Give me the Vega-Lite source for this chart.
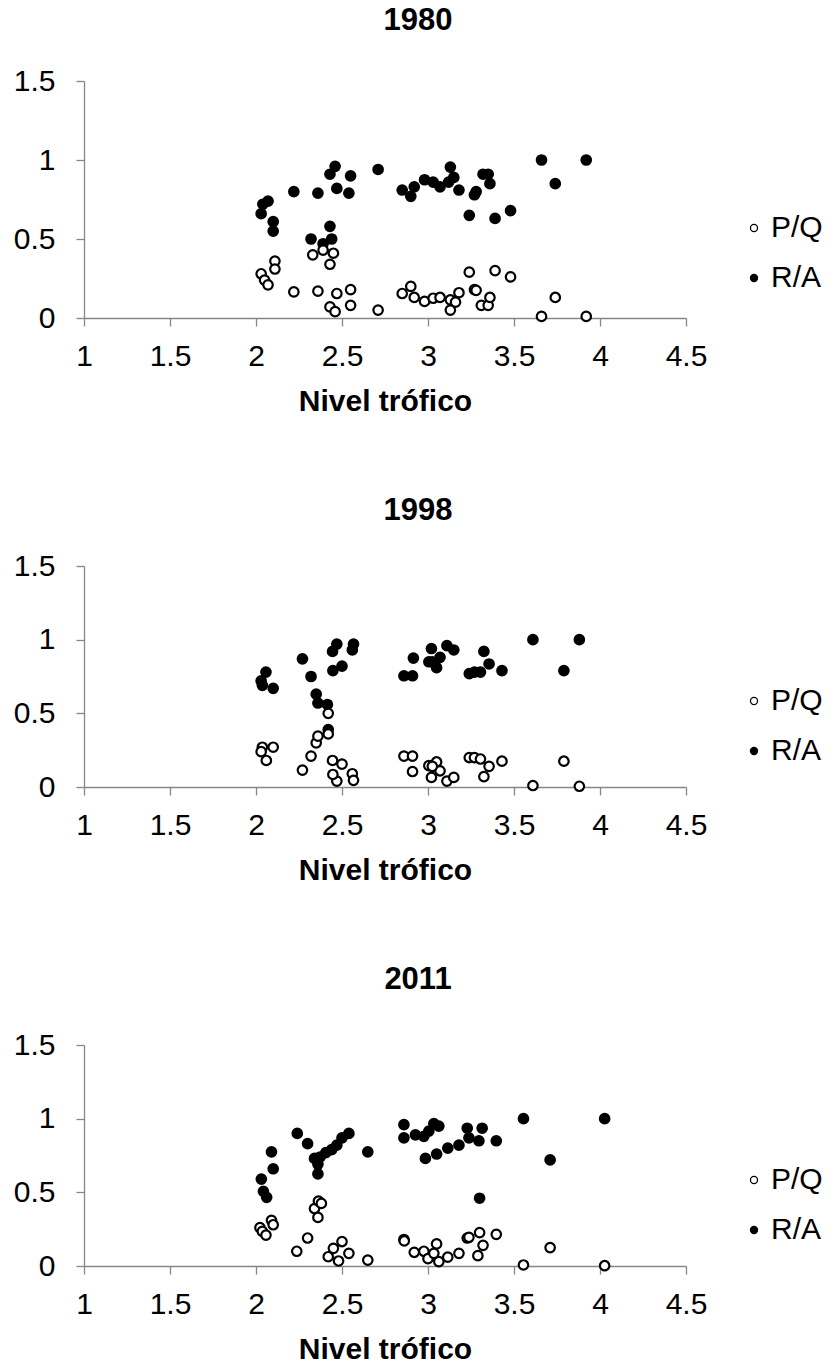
{
  "$schema": "https://vega.github.io/schema/vega-lite/v6.json",
  "background": "white",
  "padding": {"left": 13, "top": 5, "right": 0, "bottom": 0},
  "config": {
    "font": "Liberation Sans",
    "view": {"stroke": null},
    "axis": {
      "grid": false,
      "domainColor": "#868686",
      "tickColor": "#868686",
      "domainWidth": 1.3,
      "tickWidth": 1.3,
      "tickSize": 8,
      "labelFont": "Liberation Sans",
      "labelFontSize": 30,
      "labelColor": "black",
      "titleFont": "Liberation Sans",
      "titleFontSize": 30,
      "titleFontWeight": "bold",
      "titleColor": "black"
    },
    "title": {"font": "Liberation Sans", "fontSize": 31, "fontWeight": "bold", "color": "black", "anchor": "middle", "dx": 33},
    "legend": {
      "labelFont": "Liberation Sans",
      "labelFontSize": 30,
      "labelColor": "black",
      "symbolType": "circle",
      "symbolSize": 50,
      "symbolStrokeColor": "black",
      "symbolStrokeWidth": 1.3,
      "rowPadding": 20,
      "labelOffset": 2,
      "padding": 0
    },
    "concat": {"spacing": 79}
  },
  "data": {
    "values": [
      {"year": "1980", "s": "R/A", "tl": 2.03, "v": 0.66}, {"year": "1980", "s": "R/A", "tl": 2.04, "v": 0.72}, {"year": "1980", "s": "R/A", "tl": 2.07, "v": 0.74}, {"year": "1980", "s": "R/A", "tl": 2.10, "v": 0.61}, {"year": "1980", "s": "R/A", "tl": 2.10, "v": 0.55}, {"year": "1980", "s": "R/A", "tl": 2.22, "v": 0.80}, {"year": "1980", "s": "R/A", "tl": 2.36, "v": 0.79}, {"year": "1980", "s": "R/A", "tl": 2.32, "v": 0.50}, {"year": "1980", "s": "R/A", "tl": 2.39, "v": 0.47}, {"year": "1980", "s": "R/A", "tl": 2.43, "v": 0.58}, {"year": "1980", "s": "R/A", "tl": 2.44, "v": 0.50}, {"year": "1980", "s": "R/A", "tl": 2.43, "v": 0.91}, {"year": "1980", "s": "R/A", "tl": 2.46, "v": 0.96}, {"year": "1980", "s": "R/A", "tl": 2.47, "v": 0.82}, {"year": "1980", "s": "R/A", "tl": 2.55, "v": 0.90}, {"year": "1980", "s": "R/A", "tl": 2.54, "v": 0.79}, {"year": "1980", "s": "R/A", "tl": 2.71, "v": 0.94}, {"year": "1980", "s": "R/A", "tl": 2.85, "v": 0.81}, {"year": "1980", "s": "R/A", "tl": 2.90, "v": 0.77}, {"year": "1980", "s": "R/A", "tl": 2.92, "v": 0.83}, {"year": "1980", "s": "R/A", "tl": 2.98, "v": 0.875}, {"year": "1980", "s": "R/A", "tl": 3.03, "v": 0.86}, {"year": "1980", "s": "R/A", "tl": 3.07, "v": 0.83}, {"year": "1980", "s": "R/A", "tl": 3.13, "v": 0.955}, {"year": "1980", "s": "R/A", "tl": 3.15, "v": 0.89}, {"year": "1980", "s": "R/A", "tl": 3.12, "v": 0.86}, {"year": "1980", "s": "R/A", "tl": 3.18, "v": 0.81}, {"year": "1980", "s": "R/A", "tl": 3.24, "v": 0.65}, {"year": "1980", "s": "R/A", "tl": 3.27, "v": 0.78}, {"year": "1980", "s": "R/A", "tl": 3.28, "v": 0.80}, {"year": "1980", "s": "R/A", "tl": 3.32, "v": 0.91}, {"year": "1980", "s": "R/A", "tl": 3.35, "v": 0.91}, {"year": "1980", "s": "R/A", "tl": 3.36, "v": 0.85}, {"year": "1980", "s": "R/A", "tl": 3.39, "v": 0.63}, {"year": "1980", "s": "R/A", "tl": 3.48, "v": 0.68}, {"year": "1980", "s": "R/A", "tl": 3.66, "v": 1.0}, {"year": "1980", "s": "R/A", "tl": 3.74, "v": 0.85}, {"year": "1980", "s": "R/A", "tl": 3.92, "v": 1.0},
      {"year": "1980", "s": "P/Q", "tl": 2.03, "v": 0.28}, {"year": "1980", "s": "P/Q", "tl": 2.05, "v": 0.24}, {"year": "1980", "s": "P/Q", "tl": 2.07, "v": 0.21}, {"year": "1980", "s": "P/Q", "tl": 2.11, "v": 0.36}, {"year": "1980", "s": "P/Q", "tl": 2.11, "v": 0.31}, {"year": "1980", "s": "P/Q", "tl": 2.22, "v": 0.165}, {"year": "1980", "s": "P/Q", "tl": 2.36, "v": 0.17}, {"year": "1980", "s": "P/Q", "tl": 2.33, "v": 0.40}, {"year": "1980", "s": "P/Q", "tl": 2.39, "v": 0.43}, {"year": "1980", "s": "P/Q", "tl": 2.45, "v": 0.41}, {"year": "1980", "s": "P/Q", "tl": 2.43, "v": 0.34}, {"year": "1980", "s": "P/Q", "tl": 2.43, "v": 0.07}, {"year": "1980", "s": "P/Q", "tl": 2.46, "v": 0.04}, {"year": "1980", "s": "P/Q", "tl": 2.47, "v": 0.155}, {"year": "1980", "s": "P/Q", "tl": 2.55, "v": 0.18}, {"year": "1980", "s": "P/Q", "tl": 2.55, "v": 0.08}, {"year": "1980", "s": "P/Q", "tl": 2.71, "v": 0.05}, {"year": "1980", "s": "P/Q", "tl": 2.85, "v": 0.155}, {"year": "1980", "s": "P/Q", "tl": 2.90, "v": 0.20}, {"year": "1980", "s": "P/Q", "tl": 2.92, "v": 0.13}, {"year": "1980", "s": "P/Q", "tl": 2.98, "v": 0.105}, {"year": "1980", "s": "P/Q", "tl": 3.03, "v": 0.125}, {"year": "1980", "s": "P/Q", "tl": 3.07, "v": 0.13}, {"year": "1980", "s": "P/Q", "tl": 3.13, "v": 0.115}, {"year": "1980", "s": "P/Q", "tl": 3.16, "v": 0.10}, {"year": "1980", "s": "P/Q", "tl": 3.13, "v": 0.05}, {"year": "1980", "s": "P/Q", "tl": 3.18, "v": 0.16}, {"year": "1980", "s": "P/Q", "tl": 3.24, "v": 0.29}, {"year": "1980", "s": "P/Q", "tl": 3.27, "v": 0.18}, {"year": "1980", "s": "P/Q", "tl": 3.28, "v": 0.175}, {"year": "1980", "s": "P/Q", "tl": 3.31, "v": 0.08}, {"year": "1980", "s": "P/Q", "tl": 3.35, "v": 0.08}, {"year": "1980", "s": "P/Q", "tl": 3.36, "v": 0.13}, {"year": "1980", "s": "P/Q", "tl": 3.39, "v": 0.30}, {"year": "1980", "s": "P/Q", "tl": 3.48, "v": 0.26}, {"year": "1980", "s": "P/Q", "tl": 3.66, "v": 0.01}, {"year": "1980", "s": "P/Q", "tl": 3.74, "v": 0.13}, {"year": "1980", "s": "P/Q", "tl": 3.92, "v": 0.01},
      {"year": "1998", "s": "R/A", "tl": 2.058, "v": 0.78}, {"year": "1998", "s": "R/A", "tl": 2.03, "v": 0.72}, {"year": "1998", "s": "R/A", "tl": 2.037, "v": 0.69}, {"year": "1998", "s": "R/A", "tl": 2.10, "v": 0.67}, {"year": "1998", "s": "R/A", "tl": 2.27, "v": 0.87}, {"year": "1998", "s": "R/A", "tl": 2.32, "v": 0.75}, {"year": "1998", "s": "R/A", "tl": 2.35, "v": 0.63}, {"year": "1998", "s": "R/A", "tl": 2.36, "v": 0.57}, {"year": "1998", "s": "R/A", "tl": 2.415, "v": 0.56}, {"year": "1998", "s": "R/A", "tl": 2.42, "v": 0.39}, {"year": "1998", "s": "R/A", "tl": 2.445, "v": 0.92}, {"year": "1998", "s": "R/A", "tl": 2.47, "v": 0.97}, {"year": "1998", "s": "R/A", "tl": 2.447, "v": 0.79}, {"year": "1998", "s": "R/A", "tl": 2.50, "v": 0.82}, {"year": "1998", "s": "R/A", "tl": 2.56, "v": 0.93}, {"year": "1998", "s": "R/A", "tl": 2.567, "v": 0.97}, {"year": "1998", "s": "R/A", "tl": 2.86, "v": 0.755}, {"year": "1998", "s": "R/A", "tl": 2.91, "v": 0.755}, {"year": "1998", "s": "R/A", "tl": 2.915, "v": 0.875}, {"year": "1998", "s": "R/A", "tl": 3.02, "v": 0.94}, {"year": "1998", "s": "R/A", "tl": 3.005, "v": 0.85}, {"year": "1998", "s": "R/A", "tl": 3.05, "v": 0.81}, {"year": "1998", "s": "R/A", "tl": 3.07, "v": 0.88}, {"year": "1998", "s": "R/A", "tl": 3.11, "v": 0.96}, {"year": "1998", "s": "R/A", "tl": 3.15, "v": 0.93}, {"year": "1998", "s": "R/A", "tl": 3.025, "v": 0.85}, {"year": "1998", "s": "R/A", "tl": 3.24, "v": 0.77}, {"year": "1998", "s": "R/A", "tl": 3.27, "v": 0.78}, {"year": "1998", "s": "R/A", "tl": 3.305, "v": 0.78}, {"year": "1998", "s": "R/A", "tl": 3.325, "v": 0.92}, {"year": "1998", "s": "R/A", "tl": 3.355, "v": 0.835}, {"year": "1998", "s": "R/A", "tl": 3.43, "v": 0.79}, {"year": "1998", "s": "R/A", "tl": 3.61, "v": 1.0}, {"year": "1998", "s": "R/A", "tl": 3.79, "v": 0.79}, {"year": "1998", "s": "R/A", "tl": 3.88, "v": 1.0},
      {"year": "1998", "s": "P/Q", "tl": 2.037, "v": 0.27}, {"year": "1998", "s": "P/Q", "tl": 2.03, "v": 0.24}, {"year": "1998", "s": "P/Q", "tl": 2.06, "v": 0.18}, {"year": "1998", "s": "P/Q", "tl": 2.10, "v": 0.27}, {"year": "1998", "s": "P/Q", "tl": 2.27, "v": 0.115}, {"year": "1998", "s": "P/Q", "tl": 2.32, "v": 0.21}, {"year": "1998", "s": "P/Q", "tl": 2.35, "v": 0.30}, {"year": "1998", "s": "P/Q", "tl": 2.36, "v": 0.345}, {"year": "1998", "s": "P/Q", "tl": 2.42, "v": 0.50}, {"year": "1998", "s": "P/Q", "tl": 2.42, "v": 0.36}, {"year": "1998", "s": "P/Q", "tl": 2.445, "v": 0.18}, {"year": "1998", "s": "P/Q", "tl": 2.47, "v": 0.04}, {"year": "1998", "s": "P/Q", "tl": 2.447, "v": 0.085}, {"year": "1998", "s": "P/Q", "tl": 2.50, "v": 0.155}, {"year": "1998", "s": "P/Q", "tl": 2.56, "v": 0.09}, {"year": "1998", "s": "P/Q", "tl": 2.567, "v": 0.045}, {"year": "1998", "s": "P/Q", "tl": 2.86, "v": 0.21}, {"year": "1998", "s": "P/Q", "tl": 2.91, "v": 0.21}, {"year": "1998", "s": "P/Q", "tl": 2.91, "v": 0.105}, {"year": "1998", "s": "P/Q", "tl": 3.02, "v": 0.065}, {"year": "1998", "s": "P/Q", "tl": 3.005, "v": 0.145}, {"year": "1998", "s": "P/Q", "tl": 3.05, "v": 0.17}, {"year": "1998", "s": "P/Q", "tl": 3.07, "v": 0.11}, {"year": "1998", "s": "P/Q", "tl": 3.11, "v": 0.04}, {"year": "1998", "s": "P/Q", "tl": 3.15, "v": 0.065}, {"year": "1998", "s": "P/Q", "tl": 3.025, "v": 0.14}, {"year": "1998", "s": "P/Q", "tl": 3.24, "v": 0.20}, {"year": "1998", "s": "P/Q", "tl": 3.27, "v": 0.20}, {"year": "1998", "s": "P/Q", "tl": 3.305, "v": 0.19}, {"year": "1998", "s": "P/Q", "tl": 3.325, "v": 0.07}, {"year": "1998", "s": "P/Q", "tl": 3.355, "v": 0.14}, {"year": "1998", "s": "P/Q", "tl": 3.43, "v": 0.175}, {"year": "1998", "s": "P/Q", "tl": 3.61, "v": 0.01}, {"year": "1998", "s": "P/Q", "tl": 3.79, "v": 0.175}, {"year": "1998", "s": "P/Q", "tl": 3.88, "v": 0.005},
      {"year": "2011", "s": "R/A", "tl": 2.09, "v": 0.775}, {"year": "2011", "s": "R/A", "tl": 2.10, "v": 0.66}, {"year": "2011", "s": "R/A", "tl": 2.031, "v": 0.59}, {"year": "2011", "s": "R/A", "tl": 2.043, "v": 0.507}, {"year": "2011", "s": "R/A", "tl": 2.062, "v": 0.466}, {"year": "2011", "s": "R/A", "tl": 2.24, "v": 0.90}, {"year": "2011", "s": "R/A", "tl": 2.30, "v": 0.83}, {"year": "2011", "s": "R/A", "tl": 2.34, "v": 0.73}, {"year": "2011", "s": "R/A", "tl": 2.36, "v": 0.69}, {"year": "2011", "s": "R/A", "tl": 2.36, "v": 0.625}, {"year": "2011", "s": "R/A", "tl": 2.373, "v": 0.74}, {"year": "2011", "s": "R/A", "tl": 2.406, "v": 0.77}, {"year": "2011", "s": "R/A", "tl": 2.44, "v": 0.79}, {"year": "2011", "s": "R/A", "tl": 2.47, "v": 0.82}, {"year": "2011", "s": "R/A", "tl": 2.50, "v": 0.87}, {"year": "2011", "s": "R/A", "tl": 2.54, "v": 0.90}, {"year": "2011", "s": "R/A", "tl": 2.65, "v": 0.775}, {"year": "2011", "s": "R/A", "tl": 2.86, "v": 0.96}, {"year": "2011", "s": "R/A", "tl": 2.86, "v": 0.87}, {"year": "2011", "s": "R/A", "tl": 2.927, "v": 0.89}, {"year": "2011", "s": "R/A", "tl": 2.976, "v": 0.88}, {"year": "2011", "s": "R/A", "tl": 3.034, "v": 0.966}, {"year": "2011", "s": "R/A", "tl": 2.985, "v": 0.73}, {"year": "2011", "s": "R/A", "tl": 3.063, "v": 0.95}, {"year": "2011", "s": "R/A", "tl": 3.005, "v": 0.916}, {"year": "2011", "s": "R/A", "tl": 3.05, "v": 0.76}, {"year": "2011", "s": "R/A", "tl": 3.115, "v": 0.80}, {"year": "2011", "s": "R/A", "tl": 3.18, "v": 0.82}, {"year": "2011", "s": "R/A", "tl": 3.228, "v": 0.935}, {"year": "2011", "s": "R/A", "tl": 3.238, "v": 0.87}, {"year": "2011", "s": "R/A", "tl": 3.296, "v": 0.85}, {"year": "2011", "s": "R/A", "tl": 3.315, "v": 0.935}, {"year": "2011", "s": "R/A", "tl": 3.397, "v": 0.85}, {"year": "2011", "s": "R/A", "tl": 3.30, "v": 0.46}, {"year": "2011", "s": "R/A", "tl": 3.555, "v": 1.0}, {"year": "2011", "s": "R/A", "tl": 3.71, "v": 0.72}, {"year": "2011", "s": "R/A", "tl": 4.027, "v": 1.0},
      {"year": "2011", "s": "P/Q", "tl": 2.023, "v": 0.26}, {"year": "2011", "s": "P/Q", "tl": 2.037, "v": 0.235}, {"year": "2011", "s": "P/Q", "tl": 2.058, "v": 0.21}, {"year": "2011", "s": "P/Q", "tl": 2.09, "v": 0.31}, {"year": "2011", "s": "P/Q", "tl": 2.10, "v": 0.28}, {"year": "2011", "s": "P/Q", "tl": 2.237, "v": 0.10}, {"year": "2011", "s": "P/Q", "tl": 2.30, "v": 0.19}, {"year": "2011", "s": "P/Q", "tl": 2.34, "v": 0.39}, {"year": "2011", "s": "P/Q", "tl": 2.36, "v": 0.33}, {"year": "2011", "s": "P/Q", "tl": 2.363, "v": 0.44}, {"year": "2011", "s": "P/Q", "tl": 2.38, "v": 0.425}, {"year": "2011", "s": "P/Q", "tl": 2.42, "v": 0.063}, {"year": "2011", "s": "P/Q", "tl": 2.45, "v": 0.12}, {"year": "2011", "s": "P/Q", "tl": 2.48, "v": 0.034}, {"year": "2011", "s": "P/Q", "tl": 2.50, "v": 0.166}, {"year": "2011", "s": "P/Q", "tl": 2.54, "v": 0.086}, {"year": "2011", "s": "P/Q", "tl": 2.65, "v": 0.04}, {"year": "2011", "s": "P/Q", "tl": 2.86, "v": 0.18}, {"year": "2011", "s": "P/Q", "tl": 2.862, "v": 0.17}, {"year": "2011", "s": "P/Q", "tl": 2.92, "v": 0.093}, {"year": "2011", "s": "P/Q", "tl": 2.976, "v": 0.10}, {"year": "2011", "s": "P/Q", "tl": 3.0, "v": 0.05}, {"year": "2011", "s": "P/Q", "tl": 3.05, "v": 0.15}, {"year": "2011", "s": "P/Q", "tl": 3.063, "v": 0.03}, {"year": "2011", "s": "P/Q", "tl": 3.034, "v": 0.086}, {"year": "2011", "s": "P/Q", "tl": 3.115, "v": 0.06}, {"year": "2011", "s": "P/Q", "tl": 3.18, "v": 0.086}, {"year": "2011", "s": "P/Q", "tl": 3.228, "v": 0.19}, {"year": "2011", "s": "P/Q", "tl": 3.238, "v": 0.195}, {"year": "2011", "s": "P/Q", "tl": 3.29, "v": 0.07}, {"year": "2011", "s": "P/Q", "tl": 3.32, "v": 0.14}, {"year": "2011", "s": "P/Q", "tl": 3.30, "v": 0.227}, {"year": "2011", "s": "P/Q", "tl": 3.397, "v": 0.215}, {"year": "2011", "s": "P/Q", "tl": 3.555, "v": 0.007}, {"year": "2011", "s": "P/Q", "tl": 3.71, "v": 0.125}, {"year": "2011", "s": "P/Q", "tl": 4.027, "v": 0.002}
    ]
  },
  "resolve": {"legend": {"fill": "independent"}},
  "vconcat": [
    {
      "title": {"text": "1980", "offset": 29},
      "width": 602, "height": 237,
      "transform": [{"filter": "datum.year == '1980'"}],
      "mark": {"type": "point", "shape": "circle", "size": 90, "strokeWidth": 2.2, "stroke": "black", "opacity": 1},
      "encoding": {
        "x": {"field": "tl", "type": "quantitative", "scale": {"domain": [1, 4.5], "nice": false, "zero": false}, "axis": {"values": [1, 1.5, 2, 2.5, 3, 3.5, 4, 4.5], "format": "~g", "labelFlush": false, "labelPadding": 15, "title": "Nivel trófico", "titlePadding": 15}},
        "y": {"field": "v", "type": "quantitative", "scale": {"domain": [0, 1.5], "nice": false}, "axis": {"values": [0, 0.5, 1, 1.5], "format": "~g", "labelFlush": false, "labelPadding": 21, "title": null}},
        "fill": {"field": "s", "type": "nominal", "scale": {"domain": ["P/Q", "R/A"], "range": ["white", "black"]}, "legend": {"title": null, "orient": "none", "legendX": 655, "legendY": 132}}
      }
    },
    {
      "title": {"text": "1998", "offset": 24},
      "width": 602, "height": 221,
      "transform": [{"filter": "datum.year == '1998'"}],
      "mark": {"type": "point", "shape": "circle", "size": 90, "strokeWidth": 2.2, "stroke": "black", "opacity": 1},
      "encoding": {
        "x": {"field": "tl", "type": "quantitative", "scale": {"domain": [1, 4.5], "nice": false, "zero": false}, "axis": {"values": [1, 1.5, 2, 2.5, 3, 3.5, 4, 4.5], "format": "~g", "labelFlush": false, "labelPadding": 15, "title": "Nivel trófico", "titlePadding": 15}},
        "y": {"field": "v", "type": "quantitative", "scale": {"domain": [0, 1.5], "nice": false}, "axis": {"values": [0, 0.5, 1, 1.5], "format": "~g", "labelFlush": false, "labelPadding": 21, "title": null}},
        "fill": {"field": "s", "type": "nominal", "scale": {"domain": ["P/Q", "R/A"], "range": ["white", "black"]}, "legend": {"title": null, "orient": "none", "legendX": 655, "legendY": 120}}
      }
    },
    {
      "title": {"text": "2011", "offset": 34},
      "width": 602, "height": 221,
      "transform": [{"filter": "datum.year == '2011'"}],
      "mark": {"type": "point", "shape": "circle", "size": 90, "strokeWidth": 2.2, "stroke": "black", "opacity": 1},
      "encoding": {
        "x": {"field": "tl", "type": "quantitative", "scale": {"domain": [1, 4.5], "nice": false, "zero": false}, "axis": {"values": [1, 1.5, 2, 2.5, 3, 3.5, 4, 4.5], "format": "~g", "labelFlush": false, "labelPadding": 15, "title": "Nivel trófico", "titlePadding": 15}},
        "y": {"field": "v", "type": "quantitative", "scale": {"domain": [0, 1.5], "nice": false}, "axis": {"values": [0, 0.5, 1, 1.5], "format": "~g", "labelFlush": false, "labelPadding": 21, "title": null}},
        "fill": {"field": "s", "type": "nominal", "scale": {"domain": ["P/Q", "R/A"], "range": ["white", "black"]}, "legend": {"title": null, "orient": "none", "legendX": 655, "legendY": 120}}
      }
    }
  ]
}
